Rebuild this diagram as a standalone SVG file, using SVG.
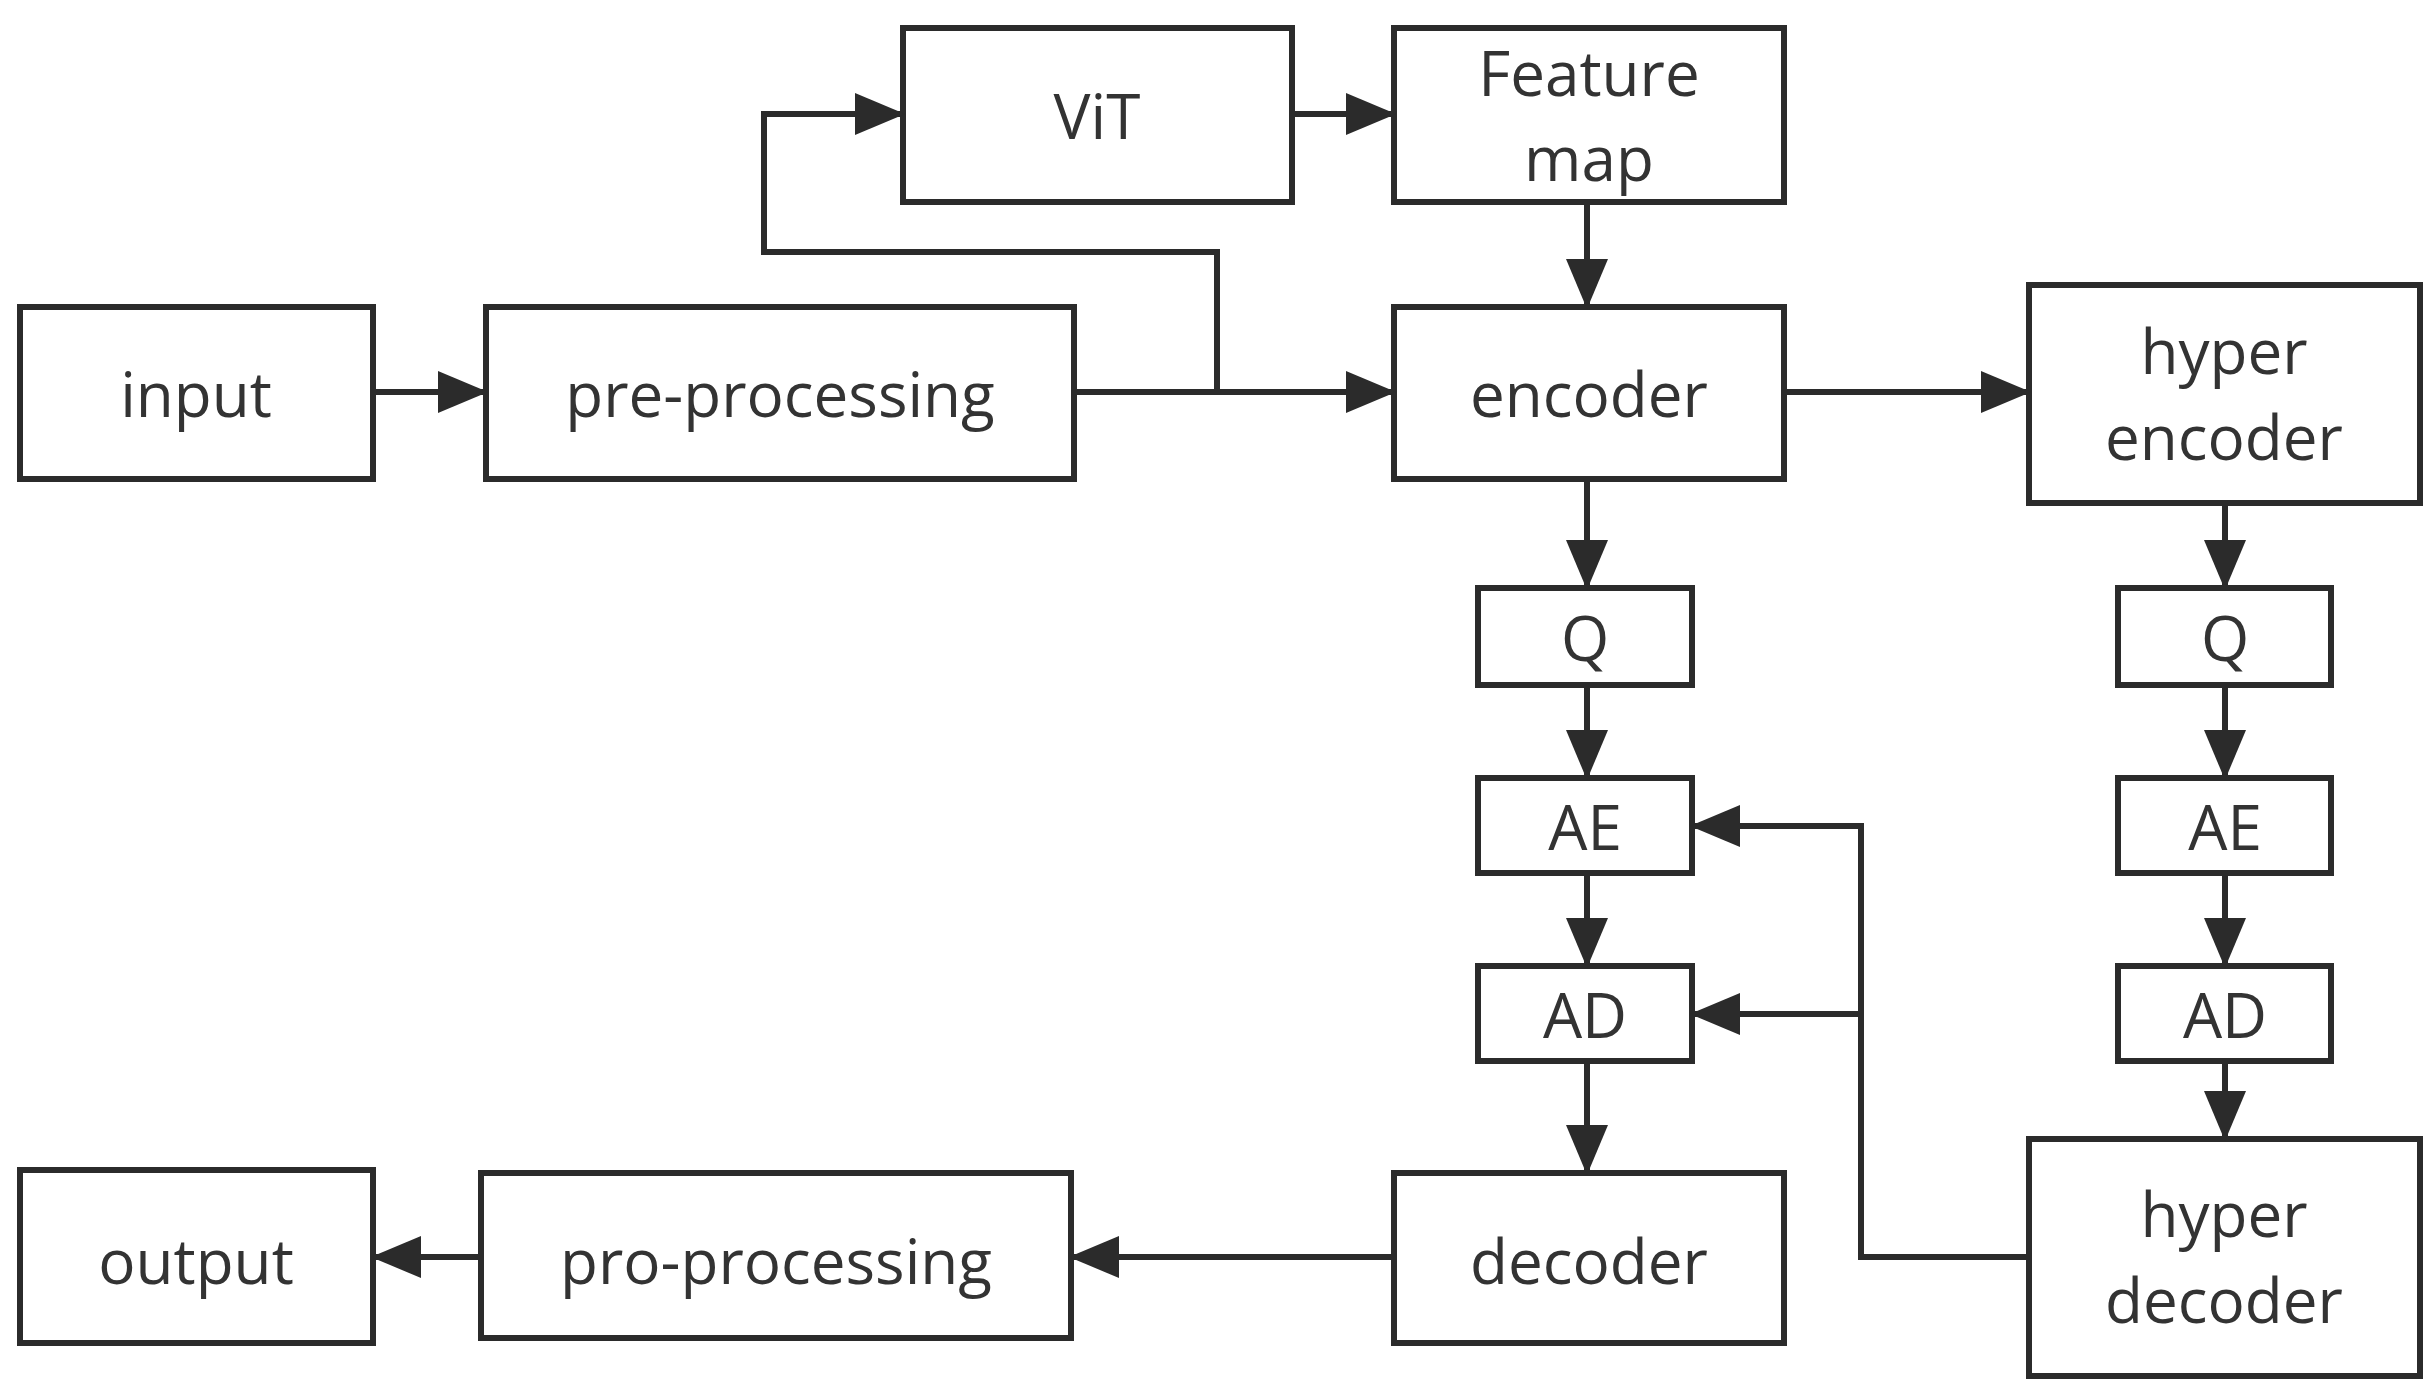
<svg xmlns="http://www.w3.org/2000/svg" width="2434" height="1395" viewBox="0 0 2434 1395">
<style>
rect{fill:#fff;stroke:#2b2b2b;stroke-width:6}
text{font-family:"Open Sans","Noto Sans",sans-serif;font-size:62px;fill:#333;text-anchor:middle;dominant-baseline:central}
.c path{fill:none;stroke:#2b2b2b;stroke-width:6}
</style>
<defs><marker id="a" markerUnits="userSpaceOnUse" markerWidth="50" markerHeight="42" refX="48" refY="21" orient="auto"><path d="M0,0L50,21L0,42z" fill="#2b2b2b"/></marker></defs>
<rect width="2434" height="1395" style="stroke:none"/>
<g id="input"><rect x="20" y="307" width="353" height="172"/><text x="196" y="393">input</text></g>
<g id="pre"><rect x="486" y="307" width="588" height="172"/><text x="780" y="393">pre-processing</text></g>
<g id="vit"><rect x="903" y="28" width="389" height="174"/><text x="1097" y="115">ViT</text></g>
<g id="feature"><rect x="1394" y="28" width="390" height="174"/><text x="1589" y="72">Feature</text><text x="1589" y="157">map</text></g>
<g id="encoder"><rect x="1394" y="307" width="390" height="172"/><text x="1589" y="393">encoder</text></g>
<g id="hyperenc"><rect x="2029" y="285" width="391" height="218"/><text x="2224" y="350">hyper</text><text x="2224" y="436">encoder</text></g>
<g id="q1"><rect x="1478" y="588" width="214" height="97"/><text x="1585" y="637">Q</text></g>
<g id="ae1"><rect x="1478" y="778" width="214" height="95"/><text x="1585" y="826">AE</text></g>
<g id="ad1"><rect x="1478" y="966" width="214" height="95"/><text x="1585" y="1014">AD</text></g>
<g id="q2"><rect x="2118" y="588" width="213" height="97"/><text x="2225" y="637">Q</text></g>
<g id="ae2"><rect x="2118" y="778" width="213" height="95"/><text x="2225" y="826">AE</text></g>
<g id="ad2"><rect x="2118" y="966" width="213" height="95"/><text x="2225" y="1014">AD</text></g>
<g id="decoder"><rect x="1394" y="1173" width="390" height="170"/><text x="1589" y="1260">decoder</text></g>
<g id="hyperdec"><rect x="2029" y="1139" width="391" height="237"/><text x="2224" y="1213">hyper</text><text x="2224" y="1299">decoder</text></g>
<g id="pro"><rect x="481" y="1173" width="590" height="165"/><text x="776" y="1260">pro-processing</text></g>
<g id="output"><rect x="20" y="1170" width="353" height="173"/><text x="196" y="1260">output</text></g>
<g class="c">
<path d="M373,392H486" marker-end="url(#a)"/>
<path d="M1074,392H1394" marker-end="url(#a)"/>
<path d="M1217,392V252H764V114H903" marker-end="url(#a)"/>
<path d="M1292,114H1394" marker-end="url(#a)"/>
<path d="M1587,202V307" marker-end="url(#a)"/>
<path d="M1784,392H2029" marker-end="url(#a)"/>
<path d="M1587,479V588" marker-end="url(#a)"/>
<path d="M1587,685V778" marker-end="url(#a)"/>
<path d="M1587,873V966" marker-end="url(#a)"/>
<path d="M1587,1061V1173" marker-end="url(#a)"/>
<path d="M2225,503V588" marker-end="url(#a)"/>
<path d="M2225,685V778" marker-end="url(#a)"/>
<path d="M2225,873V966" marker-end="url(#a)"/>
<path d="M2225,1061V1139" marker-end="url(#a)"/>
<path d="M2029,1257H1861V826H1692" marker-end="url(#a)"/>
<path d="M1861,1014H1692" marker-end="url(#a)"/>
<path d="M1394,1257H1071" marker-end="url(#a)"/>
<path d="M481,1257H373" marker-end="url(#a)"/>
</g>
</svg>
